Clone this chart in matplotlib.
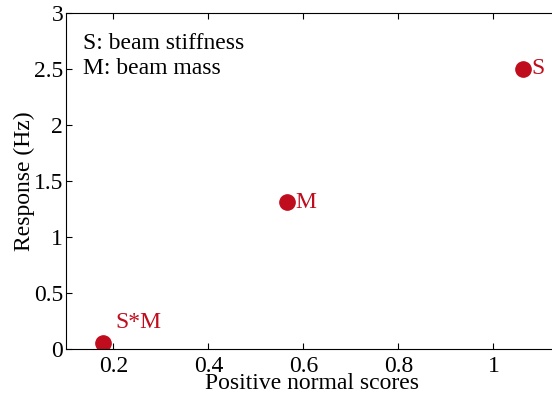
import matplotlib
matplotlib.use('Agg')
import matplotlib.pyplot as plt

# effects and their normal scores
effects = ['S', 'M', 'S*M']
scores = [1.062, 0.566, 0.178]
response = [2.50, 1.31, 0.055]
xticks = [0.2, 0.4, 0.6, 0.8, 1.0]
xticklabels = ['0.2', '0.4', '0.6', '0.8', '1']
yticks = [0, 0.5, 1, 1.5, 2, 2.5, 3]
yticklabels = ['0', '0.5', '1', '1.5', '2', '2.5', '3']
notes = ['S: beam stiffness', 'M: beam mass']

red = '#c00d1e'
plt.rcParams['font.family'] = ['Liberation Serif', 'DejaVu Serif']
plt.rcParams['font.size'] = 17

fig = plt.figure(figsize=(5.52, 3.94), dpi=100)
ax = fig.add_axes([66/552, 1 - 349/394, 1 - 66/552 + 0.01, (349 - 13)/394])

ax.plot(scores, response, 'o', color=red, markersize=11, linestyle='none')
for name, x, y in zip(effects, scores, response):
    if name == 'S*M':
        ax.annotate(name, (x, y), xytext=(9, 7), textcoords='offset points',
                    ha='left', va='bottom', color=red, fontsize=17)
    else:
        ax.annotate(name, (x, y), xytext=(6, 0), textcoords='offset points',
                    ha='left', va='center', color=red, fontsize=17)

ax.text(0.136, 2.73, notes[0], ha='left', va='center', fontsize=17)
ax.text(0.136, 2.50, notes[1], ha='left', va='center', fontsize=17)

ax.set_xlim(0.1, 1.135)
ax.set_ylim(0, 3)
ax.set_xticks(xticks)
ax.set_xticklabels(xticklabels)
ax.set_yticks(yticks)
ax.set_yticklabels(yticklabels)
ax.tick_params(direction='in', length=4, top=True, right=False, pad=2)
ax.tick_params(axis='x', pad=5)
ax.spines['right'].set_visible(False)
ax.set_xlabel('Positive normal scores', labelpad=-2.5)
ax.set_ylabel('Response (Hz)', labelpad=-1)

fig.savefig('out.png', dpi=100)
